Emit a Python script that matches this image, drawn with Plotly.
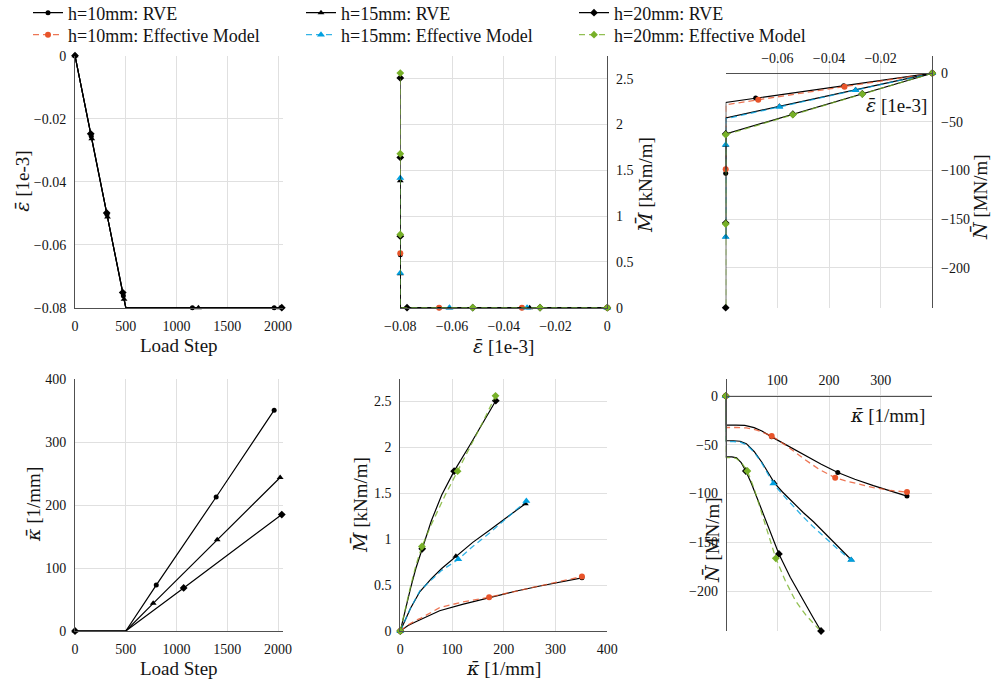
import plotly.graph_objects as go

# ================= DATA =================
# --- top-left: load step vs mean strain (RVE) ---
A_r10_x = [0, 160, 315, 476, 500, 1156, 1961]
A_r10_y = [0, -0.0256, -0.0504, -0.0762, -0.08, -0.08, -0.08]
A_r10_mk = [0, 1, 2, 3, 5, 6]
A_r15_x = [0, 165, 320, 483, 500, 1215, 2020]
A_r15_y = [0, -0.0264, -0.0512, -0.0773, -0.08, -0.08, -0.08]
A_r15_mk = [0, 1, 2, 3, 5, 6]
A_r20_x = [0, 155, 312, 470, 500, 2036]
A_r20_y = [0, -0.0248, -0.0499, -0.0752, -0.08, -0.08]
A_r20_mk = [0, 1, 2, 3, 5]

# --- top-middle: strain vs moment ---
B_r10_x = [0, -0.033, -0.065, -0.08, -0.08]
B_r10_y = [0, 0, 0, 0, 0.579]
B_r10_mk = [0, 1, 2, 4]
B_e10_x = [0, -0.033, -0.065, -0.08, -0.08]
B_e10_y = [0, 0, 0, 0, 0.593]
B_e10_mk = [0, 1, 2, 4]
B_r15_x = [0, -0.030, -0.061, -0.08, -0.08, -0.08]
B_r15_y = [0, 0, 0, 0, 0.37, 1.386]
B_r15_mk = [0, 1, 2, 4, 5]
B_e15_x = [0, -0.031, -0.061, -0.08, -0.08, -0.08]
B_e15_y = [0, 0, 0, 0, 0.38, 1.415]
B_e15_mk = [0, 1, 2, 4, 5]
B_r20_x = [0, -0.026, -0.052, -0.0774, -0.08, -0.08, -0.08, -0.08]
B_r20_y = [0, 0, 0, 0, 0, 0.78, 1.64, 2.507]
B_r20_mk = [0, 1, 2, 3, 5, 6, 7]
B_e20_x = [0, -0.026, -0.052, -0.08, -0.08, -0.08, -0.08]
B_e20_y = [0, 0, 0, 0, 0.80, 1.68, 2.56]
B_e20_mk = [0, 1, 2, 4, 5, 6]

# --- top-right: strain vs normal force ---
C_r10_x = [0, -0.0343, -0.0684, -0.08, -0.08]
C_r10_y = [0, -12.9, -25.6, -30, -102.7]
C_r10_mk = [0, 1, 2, 4]
C_e10_x = [0, -0.034, -0.0674, -0.08, -0.08]
C_e10_y = [0, -13.8, -27.3, -32.4, -98.6]
C_e10_mk = [0, 1, 2, 4]
C_r15_x = [0, -0.0297, -0.0592, -0.08, -0.08, -0.08]
C_r15_y = [0, -17.1, -34.0, -46.0, -74.0, -168.0]
C_r15_mk = [0, 1, 2, 4, 5]
C_e15_x = [0, -0.0297, -0.0592, -0.08, -0.08, -0.08]
C_e15_y = [0, -17.4, -34.6, -46.8, -73.5, -168.3]
C_e15_mk = [0, 1, 2, 4, 5]
C_r20_x = [0, -0.0271, -0.054, -0.08, -0.08, -0.08]
C_r20_y = [0, -21.2, -42.2, -62.5, -154.0, -241.0]
C_r20_mk = [0, 1, 2, 3, 4, 5]
C_e20_x = [0, -0.0271, -0.054, -0.08, -0.08, -0.08]
C_e20_y = [0, -21.4, -42.6, -63.2, -155.0, -239.0]
C_e20_mk = [0, 1, 2, 3, 4]

# --- bottom-left: load step vs curvature (RVE) ---
D_r10_x = [0, 500, 800, 1390, 1961]
D_r10_y = [0, 0, 73, 213, 351]
D_r10_mk = [0, 2, 3, 4]
D_r15_x = [0, 500, 770, 1400, 2020]
D_r15_y = [0, 0, 44, 145, 244]
D_r15_mk = [0, 2, 3, 4]
D_r20_x = [0, 500, 1070, 2036]
D_r20_y = [0, 0, 68.5, 185]
D_r20_mk = [0, 2, 3]

# --- bottom-middle: curvature vs moment ---
E_r10_x = [0, 15, 30, 40, 76, 120, 172, 220, 270, 310, 351]
E_r10_y = [0, 0.06, 0.10, 0.125, 0.22, 0.29, 0.365, 0.43, 0.49, 0.535, 0.579]
E_r10_mk = [0, 10]
E_e10_x = [0, 15, 30, 40, 76, 120, 171.6, 220, 270, 310, 351]
E_e10_y = [0, 0.065, 0.115, 0.14, 0.255, 0.315, 0.368, 0.43, 0.49, 0.545, 0.593]
E_e10_mk = [0, 6, 10]
E_r15_x = [0, 10, 20, 38, 60, 80, 107.4, 140, 173, 200, 241.7]
E_r15_y = [0, 0.13, 0.25, 0.43, 0.57, 0.68, 0.815, 0.965, 1.10, 1.21, 1.386]
E_r15_mk = [0, 6, 10]
E_e15_x = [0, 10, 20, 38, 60, 80, 112, 140, 173, 200, 243.6]
E_e15_y = [0, 0.13, 0.25, 0.44, 0.56, 0.66, 0.78, 0.92, 1.07, 1.20, 1.415]
E_e15_mk = [0, 6, 10]
E_r20_x = [0, 10, 20, 30, 42.4, 60, 80, 104, 134, 160, 184.5]
E_r20_y = [0, 0.25, 0.47, 0.68, 0.895, 1.20, 1.48, 1.74, 2.02, 2.27, 2.507]
E_r20_mk = [0, 4, 7, 10]
E_e20_x = [0, 10, 20, 30, 41.8, 60, 86.8, 110.7, 138, 160, 184]
E_e20_y = [0, 0.26, 0.49, 0.71, 0.92, 1.16, 1.48, 1.74, 2.03, 2.28, 2.56]
E_e20_mk = [0, 4, 7, 10]

# --- bottom-right: curvature vs normal force ---
F_r10_x = [0, 0, 20, 37, 55, 70, 89, 120, 150, 185, 217, 250, 286, 320, 351]
F_r10_y = [0, -30, -30, -30.3, -32.5, -36, -42, -51, -60, -70, -78.5, -85.5, -92, -97.5, -102.7]
F_r10_mk = [0, 6, 10, 14]
F_e10_x = [0, 0, 20, 40, 60, 75, 89, 120, 150, 180, 212, 235, 260, 286, 320, 351]
F_e10_y = [0, -32.4, -32.4, -32.8, -35, -38, -41, -52, -64, -75, -84, -87.5, -91, -94, -97, -98.6]
F_e10_mk = [0, 6, 10, 15]
F_r15_x = [0, 0, 15, 28, 40, 55, 70, 82, 94.2, 110, 130, 150, 170, 195, 220, 243]
F_r15_y = [0, -46, -46, -46.5, -49, -57, -68, -78.5, -89.1, -98.5, -109.5, -119.5, -129, -142.5, -155.5, -168]
F_r15_mk = [0, 8, 15]
F_e15_x = [0, 0, 15, 28, 40, 55, 70, 80, 92.3, 110, 130, 150, 170, 195, 220, 243]
F_e15_y = [0, -46.8, -46.8, -47.3, -50, -57.5, -69, -78.5, -89.8, -101, -113, -124, -134.5, -147, -158.5, -168.3]
F_e15_mk = [0, 8, 15]
F_r20_x = [0, 0, 12, 21, 30, 39, 50, 65, 80, 103, 125, 150, 170, 184.6]
F_r20_y = [0, -62.5, -62.5, -63.5, -68.5, -77, -90, -110, -131, -162, -186, -210, -228, -241]
F_r20_mk = [0, 5, 9, 13]
F_e20_x = [0, 0, 12, 20, 30, 42, 55, 70, 85, 97, 115, 135, 155, 180]
F_e20_y = [0, -63.2, -63.2, -64, -68, -77, -95, -120, -146, -166.5, -189, -210, -224.5, -239]
F_e20_mk = [0, 5, 9]

# ---- axis ticks ----
A_xticks = [0, 500, 1000, 1500, 2000]
A_yticks = [0, -0.02, -0.04, -0.06, -0.08]
B_xticks = [-0.08, -0.06, -0.04, -0.02, 0]
B_yticks = [0, 0.5, 1, 1.5, 2, 2.5]
C_xticks = [-0.06, -0.04, -0.02]
C_yticks = [0, -50, -100, -150, -200]
D_xticks = [0, 500, 1000, 1500, 2000]
D_yticks = [0, 100, 200, 300, 400]
E_xticks = [0, 100, 200, 300, 400]
E_yticks = [0, 0.5, 1, 1.5, 2, 2.5]
F_xticks = [100, 200, 300, 400]
F_xticktext = ["100", "200", "300", ""]
F_yticks = [0, -50, -100, -150, -200]

legend_names = ["h=10mm: RVE", "h=15mm: RVE", "h=20mm: RVE",
                "h=10mm: Effective Model", "h=15mm: Effective Model", "h=20mm: Effective Model"]

# ================= STYLE =================
W, H = 994, 684
FONT = "Liberation Serif"
TXT = "rgb(20,20,20)"
RED, BLUE, GREEN = (232, 84, 42), (0, 160, 224), (119, 176, 40)


def rgba(c, a):
    return "rgba(%d,%d,%d,%.2f)" % (c[0], c[1], c[2], a)


STYLE = {
    "r10": dict(lc="black", mc="black", dash="solid", sym="circle", ms=5, lw=1.2),
    "r15": dict(lc="black", mc="black", dash="solid", sym="triangle-up", ms=6, lw=1.2),
    "r20": dict(lc="black", mc="black", dash="solid", sym="diamond", ms=6, lw=1.2),
    "e10": dict(lc=rgba(RED, 0.8), mc=rgba(RED, 1), dash="6px,4px", sym="circle", ms=6, lw=1.3),
    "e15": dict(lc=rgba(BLUE, 0.8), mc=rgba(BLUE, 1), dash="6px,4px", sym="triangle-up", ms=7, lw=1.3),
    "e20": dict(lc=rgba(GREEN, 0.8), mc=rgba(GREEN, 1), dash="6px,4px", sym="diamond", ms=6, lw=1.3),
}

fig = go.Figure()


def add_series(key, xs, ys, mk, xa, ya):
    s = STYLE[key]
    fig.add_trace(go.Scatter(x=xs, y=ys, mode="lines", xaxis=xa, yaxis=ya,
                             line=dict(color=s["lc"], width=s["lw"], dash=s["dash"]),
                             showlegend=False, hoverinfo="skip", cliponaxis=False))
    fig.add_trace(go.Scatter(x=[xs[i] for i in mk], y=[ys[i] for i in mk], mode="markers",
                             xaxis=xa, yaxis=ya,
                             marker=dict(symbol=s["sym"], size=s["ms"], color=s["mc"], line=dict(width=0)),
                             showlegend=False, hoverinfo="skip", cliponaxis=False))


# top-left
add_series("r10", A_r10_x, A_r10_y, A_r10_mk, "x", "y")
add_series("r15", A_r15_x, A_r15_y, A_r15_mk, "x", "y")
add_series("r20", A_r20_x, A_r20_y, A_r20_mk, "x", "y")
# top-middle
add_series("r10", B_r10_x, B_r10_y, B_r10_mk, "x2", "y2")
add_series("e10", B_e10_x, B_e10_y, B_e10_mk, "x2", "y2")
add_series("r15", B_r15_x, B_r15_y, B_r15_mk, "x2", "y2")
add_series("e15", B_e15_x, B_e15_y, B_e15_mk, "x2", "y2")
add_series("r20", B_r20_x, B_r20_y, B_r20_mk, "x2", "y2")
add_series("e20", B_e20_x, B_e20_y, B_e20_mk, "x2", "y2")
# top-right
add_series("r10", C_r10_x, C_r10_y, C_r10_mk, "x3", "y3")
add_series("e10", C_e10_x, C_e10_y, C_e10_mk, "x3", "y3")
add_series("r15", C_r15_x, C_r15_y, C_r15_mk, "x3", "y3")
add_series("e15", C_e15_x, C_e15_y, C_e15_mk, "x3", "y3")
add_series("r20", C_r20_x, C_r20_y, C_r20_mk, "x3", "y3")
add_series("e20", C_e20_x, C_e20_y, C_e20_mk, "x3", "y3")
# bottom-left
add_series("r10", D_r10_x, D_r10_y, D_r10_mk, "x4", "y4")
add_series("r15", D_r15_x, D_r15_y, D_r15_mk, "x4", "y4")
add_series("r20", D_r20_x, D_r20_y, D_r20_mk, "x4", "y4")
# bottom-middle
add_series("r10", E_r10_x, E_r10_y, E_r10_mk, "x5", "y5")
add_series("e10", E_e10_x, E_e10_y, E_e10_mk, "x5", "y5")
add_series("r15", E_r15_x, E_r15_y, E_r15_mk, "x5", "y5")
add_series("e15", E_e15_x, E_e15_y, E_e15_mk, "x5", "y5")
add_series("r20", E_r20_x, E_r20_y, E_r20_mk, "x5", "y5")
add_series("e20", E_e20_x, E_e20_y, E_e20_mk, "x5", "y5")
# bottom-right
add_series("r10", F_r10_x, F_r10_y, F_r10_mk, "x6", "y6")
add_series("e10", F_e10_x, F_e10_y, F_e10_mk, "x6", "y6")
add_series("r15", F_r15_x, F_r15_y, F_r15_mk, "x6", "y6")
add_series("e15", F_e15_x, F_e15_y, F_e15_mk, "x6", "y6")
add_series("r20", F_r20_x, F_r20_y, F_r20_mk, "x6", "y6")
add_series("e20", F_e20_x, F_e20_y, F_e20_mk, "x6", "y6")

# legend entries
for i, key in enumerate(["r10", "r15", "r20", "e10", "e15", "e20"]):
    s = STYLE[key]
    fig.add_trace(go.Scatter(x=[None], y=[None], mode="lines+markers", name=legend_names[i],
                             line=dict(color=s["lc"], width=s["lw"], dash=s["dash"]),
                             marker=dict(symbol=s["sym"], size=s["ms"], color=s["mc"], line=dict(width=0)),
                             legend="legend" if i < 3 else "legend2", xaxis="x", yaxis="y"))


def px(p):
    return p / W


def py(p):
    return 1 - p / H


COL = [(px(75), px(283.2)), (px(400.3), px(607.3)), (px(725.7), px(932.3))]
ROW = [(py(307.7), py(55.7)), (py(631), py(379.3))]

base = dict(showgrid=True, gridcolor="rgb(224,224,224)", gridwidth=1, zeroline=False,
            showline=True, linecolor="rgb(80,80,80)", linewidth=1, ticks="",
            tickfont=dict(family=FONT, size=14, color=TXT), automargin=False,
            fixedrange=True, ticklabelstandoff=5)

fig.update_layout(
    xaxis=dict(base, domain=COL[0], anchor="y", range=[0, 2050], tickvals=A_xticks),
    yaxis=dict(base, domain=ROW[0], anchor="x", range=[-0.08, 0], tickvals=A_yticks),
    xaxis2=dict(base, domain=COL[1], anchor="y2", range=[-0.08, 0], tickvals=B_xticks),
    yaxis2=dict(base, domain=ROW[0], anchor="x2", side="right", range=[0, 2.75], tickvals=B_yticks),
    xaxis3=dict(base, domain=COL[2], anchor="free", position=py(73.3), side="top",
                range=[-0.08, 0], tickvals=C_xticks),
    yaxis3=dict(base, domain=ROW[0], anchor="free", position=COL[2][1], side="right",
                range=[-241, 18], tickvals=C_yticks),
    xaxis4=dict(base, domain=COL[0], anchor="y4", range=[0, 2050], tickvals=D_xticks),
    yaxis4=dict(base, domain=ROW[1], anchor="x4", range=[0, 400], tickvals=D_yticks),
    xaxis5=dict(base, domain=COL[1], anchor="y5", range=[0, 400], tickvals=E_xticks),
    yaxis5=dict(base, domain=ROW[1], anchor="x5", range=[0, 2.74], tickvals=E_yticks),
    xaxis6=dict(base, domain=COL[2], anchor="free", position=py(395.7), side="top",
                range=[0, 400], tickvals=F_xticks, ticktext=F_xticktext),
    yaxis6=dict(base, domain=ROW[1], anchor="free", position=COL[2][0], side="left",
                range=[-241, 17], tickvals=F_yticks),
)


def sym(ch):
    return "<i><span style=\"font-family:DejaVu Serif\">" + ch + "\u0304</span></i>"


EPS = sym("ε") + " [1e-3]"
MOM = sym("M") + " [kNm/m]"
NOR = sym("N") + " [MN/m]"
KAP = sym("κ") + " [1/mm]"
LS = "Load Step"
titles = [
    (LS, 179, 345.5, 0), (EPS, 22, 181.7, -90),
    (EPS, 503.5, 345.5, 0), (MOM, 645, 185, -90),
    (EPS, 896, 105, 0), (NOR, 980, 197, -90),
    (LS, 179, 668, 0), (KAP, 33, 505, -90),
    (KAP, 503.5, 668, 0), (MOM, 360, 505, -90),
    (KAP, 887, 415, 0), (NOR, 712, 540, -90),
]
for t, x, y, ang in titles:
    fig.add_annotation(text=t, x=px(x), y=py(y), xref="paper", yref="paper", showarrow=False,
                       textangle=ang, xanchor="center", yanchor="middle",
                       font=dict(family=FONT, size=19, color=TXT))

leg = dict(orientation="h", xanchor="left", yanchor="middle", entrywidth=228, entrywidthmode="pixels",
           font=dict(family=FONT, size=18, color=TXT), bgcolor="rgba(0,0,0,0)", itemwidth=30,
           traceorder="normal")
fig.update_layout(
    width=W, height=H, margin=dict(l=0, r=0, t=0, b=0, autoexpand=False),
    paper_bgcolor="white", plot_bgcolor="white", showlegend=True,
    legend=dict(leg, x=px(28), y=py(13)),
    legend2=dict(leg, x=px(28), y=py(35)),
)

fig.write_html("out.html")
